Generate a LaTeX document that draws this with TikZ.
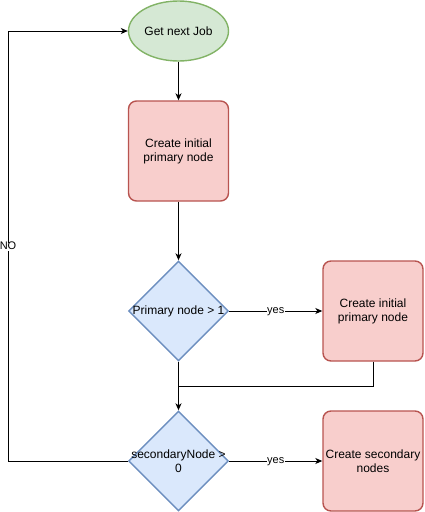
\documentclass[tikz,border=0pt]{standalone}
\usepackage{fontspec}
\setmainfont{Liberation Sans}
\usetikzlibrary{shapes.geometric,arrows.meta,positioning}
\definecolor{gfill}{HTML}{D5E8D4}
\definecolor{gdraw}{HTML}{82B366}
\definecolor{rfill}{HTML}{F8CECC}
\definecolor{rdraw}{HTML}{B85450}
\definecolor{bfill}{HTML}{DAE8FC}
\definecolor{bdraw}{HTML}{6C8EBF}
\tikzset{
  startnode/.style={ellipse, draw=gdraw, fill=gfill, line width=1.4pt, minimum width=100pt, minimum height=60pt, inner sep=0pt, font=\fontsize{12}{14}\selectfont},
  procbox/.style={rectangle, rounded corners=8pt, draw=rdraw, fill=rfill, line width=1.4pt, minimum width=100pt, minimum height=100pt, inner sep=0pt, align=center, font=\fontsize{12}{14}\selectfont},
  decision/.style={diamond, draw=bdraw, fill=bfill, line width=1.4pt, minimum width=100pt, minimum height=100pt, inner sep=0pt},
  dtext/.style={align=center, inner sep=0pt, font=\fontsize{12}{14}\selectfont},
  conn/.style={line width=1pt, -{Stealth[length=7pt,width=6pt,inset=2pt]}},
  plainconn/.style={line width=1pt},
  elabel/.style={fill=white, inner sep=0.5pt, text height=6pt, text depth=1pt, font=\fontsize{11}{13}\selectfont}
}
\begin{document}
\begin{tikzpicture}[x=1pt,y=-1pt]
\useasboundingbox (0,0) rectangle (424,512);
\node[startnode] (start) at (178.5,31) {Get next Job};
\node[procbox] (create1) at (178.5,151) {Create initial\\primary node};
\node[decision] (d1) at (178.5,311) {};
\node[dtext] (d1t) at (d1) {Primary node > 1};
\node[procbox] (create2) at (373,311) {Create initial\\primary node};
\node[decision] (d2) at (178.5,461) {};
\node[dtext] (d2t) at (d2) {secondaryNode >\\0};
\node[procbox] (create3) at (373,461) {Create secondary\\nodes};
\coordinate (merge) at (178.5,386);
\coordinate (lb) at (8,461);
\coordinate (lt) at (8,31);

\draw[conn] (start) -- (create1);
\draw[conn] (create1) -- (d1);
\draw[conn] (d1) -- node[elabel] {yes} (create2);
\draw[plainconn] (create2.south) |- (merge);
\draw[conn] (d1) -- (d2);
\draw[conn] (d2) -- node[elabel] {yes} (create3);
\draw[conn] (d2.west) -- (lb) -- node[elabel, pos=0.497] {NO} (lt) -- (start.west);
\end{tikzpicture}
\end{document}
